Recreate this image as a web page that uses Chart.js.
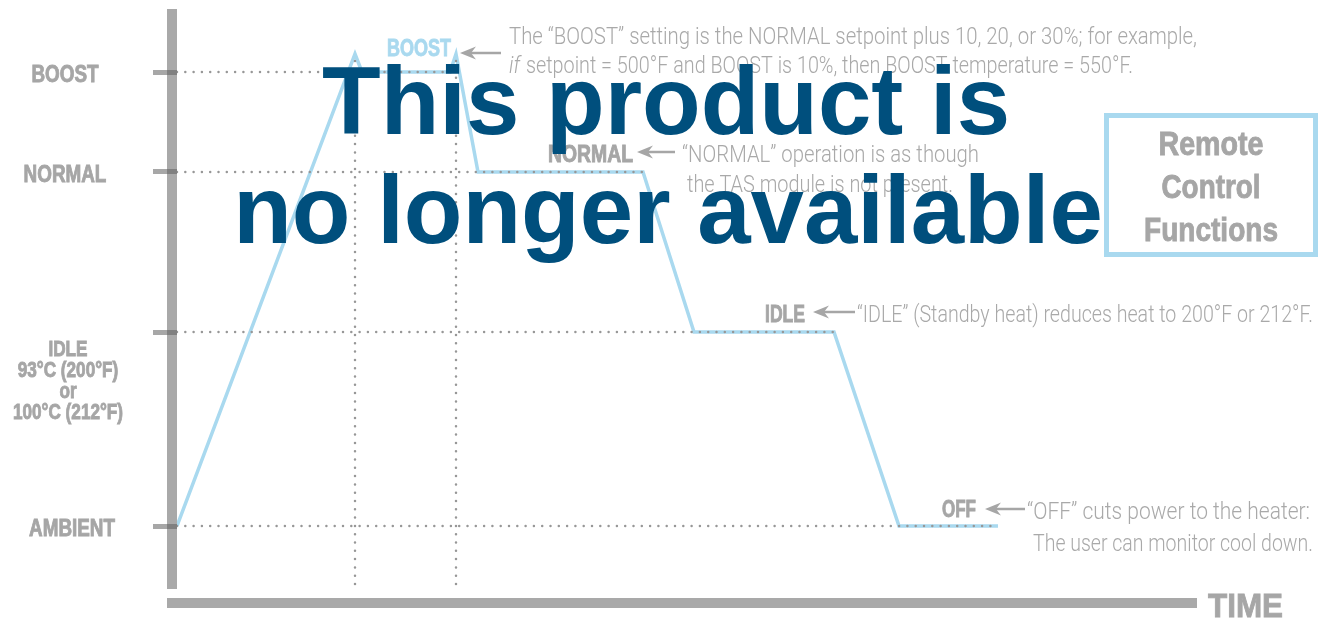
<!DOCTYPE html>
<html>
<head>
<meta charset="utf-8">
<title>Heat profile</title>
<script src="https://cdn.jsdelivr.net/npm/chart.js@4.4.0/dist/chart.umd.min.js"></script>
<style>
  html, body { margin: 0; padding: 0; background: #fff; }
  canvas { display: block; }
</style>
</head>
<body>
<canvas id="heatChart" width="1329" height="620"></canvas>
<script>
// heater temperature over time, in relative units
const timePoints = [0, 89, 92.5, 136.5, 139.5, 150.5, 233, 258.5, 328.5, 361, 410.5];
const heatPoints = [0, 236, 227, 227, 236, 177, 177, 97, 97, 0, 0];

// setpoint levels shown on the left axis
const levelNames = [['AMBIENT'], ['IDLE', '93°C (200°F)', 'or', '100°C (212°F)'], ['NORMAL'], ['BOOST']];
const levelValues = [0, 97, 177, 227];
const levelEnds = [410.5, 328.5, 233, 139.5];

// boost window (start / end)
const boostTimes = [89, 139.5];
const guideBottom = -29;

const GRAY = '#a6a6a6';
const BLUE = '#a9d9ef';
const LIGHT = "300 24px Roboto, 'Liberation Sans', sans-serif";
const BOLD = "bold 23px 'Liberation Sans', Arial, sans-serif";

const heatLine = {
    data: timePoints.map((t, i) => ({ x: t, y: heatPoints[i] })),
    borderColor: BLUE,
    borderWidth: 3.5,
    pointRadius: 0,
    tension: 0,
    fill: false,
    order: 1
};

const dotStyle = {
    borderColor: '#979797',
    borderWidth: 2.5,
    borderDash: [0, 8.3],
    borderCapStyle: 'round',
    pointRadius: 0,
    fill: false,
    order: 0
};

const guides = levelValues.map((v, i) => ({
    ...dotStyle,
    data: [{ x: 0, y: v }, { x: levelEnds[i], y: v }]
}));
const peak = Math.max(...heatPoints);
boostTimes.forEach(t => {
    guides.push({ ...dotStyle, data: [{ x: t, y: guideBottom }, { x: t, y: peak }] });
});

// squeeze text horizontally into a given width
function fitText(ctx, text, x, y, w, align, heavy) {
    const m = ctx.measureText(text).width;
    const left = align === 'center' ? x - w / 2 : x;
    ctx.save();
    ctx.translate(left, y);
    ctx.scale(w / m, 1);
    ctx.textAlign = 'left';
    ctx.fillText(text, 0, 0);
    if (heavy) {
        ctx.lineWidth = 0.9;
        ctx.strokeStyle = ctx.fillStyle;
        ctx.strokeText(text, 0, 0);
    }
    ctx.restore();
}

function squeezeText(ctx, text, cx, y, k) {
    const m = ctx.measureText(text).width;
    ctx.save();
    ctx.translate(cx - m * k / 2, y);
    ctx.scale(k, 1);
    ctx.textAlign = 'left';
    ctx.fillText(text, 0, 0);
    ctx.lineWidth = 0.9;
    ctx.strokeStyle = ctx.fillStyle;
    ctx.strokeText(text, 0, 0);
    ctx.restore();
}

function arrow(ctx, x0, x1, y) {
    ctx.beginPath();
    ctx.moveTo(x0 + 8, y);
    ctx.lineTo(x1, y);
    ctx.lineWidth = 2.5;
    ctx.stroke();
    ctx.beginPath();
    ctx.moveTo(x0, y);
    ctx.lineTo(x0 + 16, y - 6.5);
    ctx.lineTo(x0 + 11, y);
    ctx.lineTo(x0 + 16, y + 6.5);
    ctx.closePath();
    ctx.fill();
}

// thick gray axis bars
const axisBars = {
    id: 'axisBars',
    beforeDraw(chart) {
        const { ctx, chartArea } = chart;
        ctx.save();
        ctx.fillStyle = '#fff';
        ctx.fillRect(0, 0, chart.width, chart.height);
        ctx.fillStyle = '#a9a9a9';
        ctx.fillRect(chartArea.left - 10, chartArea.top, 10, chartArea.bottom - chartArea.top);
        ctx.fillRect(chartArea.left - 10, chartArea.bottom + 9, chartArea.right - chartArea.left + 12, 10);
        ctx.restore();
    }
};

const notes = [
    { text: 'The \u201cBOOST\u201d setting is the NORMAL setpoint plus 10, 20, or 30%; for example,', x: 509, y: 44, w: 688 },
    { text: 'setpoint = 500°F and BOOST is 10%, then BOOST temperature = 550°F.', x: 526, y: 73, w: 607 },
    { text: '\u201cNORMAL\u201d operation is as though', x: 682, y: 162, w: 297 },
    { text: 'the TAS module is not present.', x: 687, y: 192, w: 266 },
    { text: '\u201cIDLE\u201d (Standby heat) reduces heat to 200°F or 212°F.', x: 857, y: 322, w: 456 },
    { text: '\u201cOFF\u201d cuts power to the heater:', x: 1027, y: 519, w: 283 },
    { text: 'The user can monitor cool down.', x: 1033, y: 551, w: 280 }
];

const tags = [
    { text: 'BOOST', x: 387, y: 56, w: 64, color: BLUE, arrow: [460, 501, 53] },
    { text: 'NORMAL', x: 548, y: 162, w: 85, color: GRAY, arrow: [637, 675, 152] },
    { text: 'IDLE', x: 765, y: 322, w: 40, color: GRAY, arrow: [813, 855, 312] },
    { text: 'OFF', x: 942, y: 517, w: 34, color: GRAY, arrow: [985, 1025, 509] }
];

// horizontal centre of each level name
const nameCenters = { AMBIENT: 72, NORMAL: 65, BOOST: 65 };

const labels = {
    id: 'labels',
    afterDraw(chart) {
        const { ctx, scales } = chart;
        const y = scales.y;
        ctx.save();
        ctx.textBaseline = 'alphabetic';

        // level names beside the axis
        ctx.fillStyle = GRAY;
        levelNames.forEach((lines, i) => {
            const py = y.getPixelForValue(levelValues[i]);
            if (lines.length === 1) {
                ctx.font = BOLD;
                squeezeText(ctx, lines[0], nameCenters[lines[0]], py + 10, 0.82);
            } else {
                ctx.font = "bold 22px 'Liberation Sans', Arial, sans-serif";
                lines.forEach((s, j) => squeezeText(ctx, s, 68, py + 24 + j * 21, 0.78));
            }
        });

        // state tags with arrows
        tags.forEach(t => {
            ctx.font = BOLD;
            ctx.fillStyle = t.color;
            fitText(ctx, t.text, t.x, t.y, t.w, 'left', true);
            ctx.fillStyle = GRAY;
            ctx.strokeStyle = GRAY;
            arrow(ctx, t.arrow[0], t.arrow[1], t.arrow[2]);
        });

        // descriptions
        ctx.fillStyle = '#a9a9a9';
        ctx.font = LIGHT;
        notes.forEach(n => fitText(ctx, n.text, n.x, n.y, n.w));
        ctx.font = "italic 300 24px Roboto, 'Liberation Sans', sans-serif";
        fitText(ctx, 'if', 509, 73, 11);

        // axis title
        ctx.fillStyle = GRAY;
        ctx.font = "bold 34px 'Liberation Sans', Arial, sans-serif";
        fitText(ctx, 'TIME', 1208, 617, 75, 'left', true);

        // remote control box
        ctx.strokeStyle = BLUE;
        ctx.lineWidth = 5;
        ctx.strokeRect(1106.5, 115.5, 209, 139);
        ctx.font = "bold 33px 'Liberation Sans', Arial, sans-serif";
        ctx.fillStyle = GRAY;
        fitText(ctx, 'Remote', 1211, 155, 105, 'center', true);
        fitText(ctx, 'Control', 1211, 198, 99, 'center', true);
        fitText(ctx, 'Functions', 1211, 241, 134, 'center', true);

        // discontinued notice across the chart
        ctx.font = "bold 96px 'Liberation Sans', Arial, sans-serif";
        ctx.fillStyle = '#004f7d';
        ctx.textAlign = 'center';
        ctx.fillText('This product is', 666, 134);
        ctx.fillText('no longer available', 668, 243);
        ctx.restore();
    }
};

new Chart(document.getElementById('heatChart'), {
    type: 'line',
    data: { datasets: [heatLine, ...guides] },
    options: {
        responsive: false,
        animation: false,
        devicePixelRatio: 1,
        layout: { padding: { top: 9, right: 134, bottom: 31, left: 0 } },
        plugins: {
            legend: { display: false },
            tooltip: { enabled: false }
        },
        scales: {
            x: { type: 'linear', min: 0, max: 509, display: false },
            y: {
                type: 'linear',
                min: -31.5,
                max: 258.5,
                afterBuildTicks: s => { s.ticks = levelValues.map(v => ({ value: v })); },
                afterFit: s => { s.width = 177; },
                ticks: { display: false },
                border: { display: false },
                grid: {
                    drawOnChartArea: false,
                    tickLength: 24,
                    tickWidth: 5,
                    tickColor: 'rgba(95, 95, 95, 0.55)'
                }
            }
        }
    },
    plugins: [axisBars, labels]
});
</script>
</body>
</html>
